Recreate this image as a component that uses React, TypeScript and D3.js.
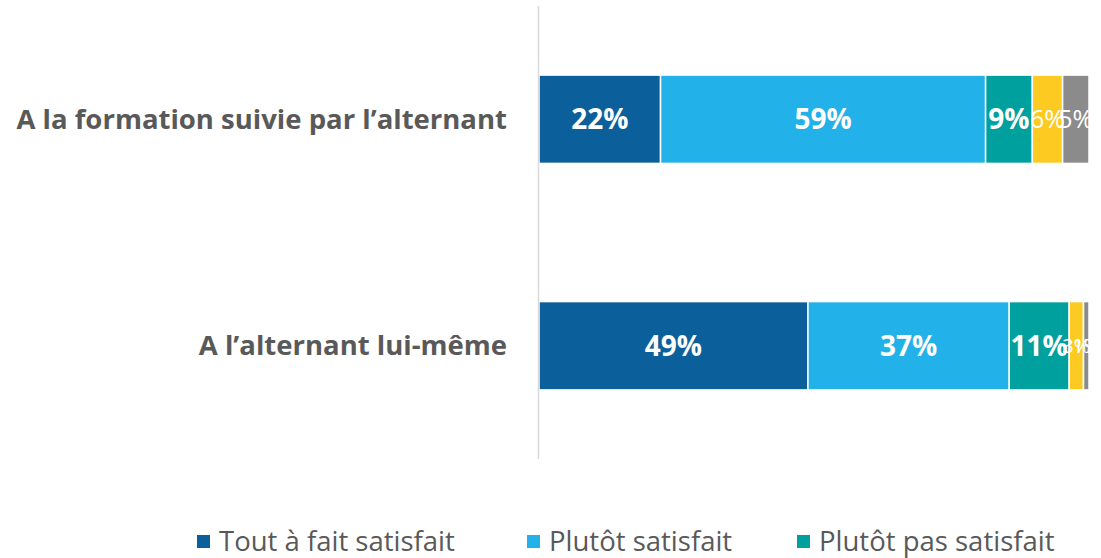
import React from "react";
import * as d3 from "d3";

const categories = ["A la formation suivie par l\u2019alternant", "A l\u2019alternant lui-même"];
const seriesNames = ["Tout à fait satisfait", "Plutôt satisfait", "Plutôt pas satisfait", "Pas du tout satisfait", "Ne sait pas"];
const seriesColors = ["#0b5f9a", "#22b1e8", "#00a09f", "#fdca22", "#8b8b8b"];
const formationValues = [22.1, 59.1, 8.5, 5.5, 4.8];
const alternantValues = [48.9, 36.6, 10.9, 2.6, 1.0];
const valuesByCategory = [formationValues, alternantValues];
const legendShown = [0, 1, 2];
const legendX = [197, 527, 797];

const W = 1101;
const H = 558;
const FONT = "'Open Sans', 'Noto Sans', sans-serif";

export default function App() {
  const x = d3.scaleLinear().domain([0, 100]).range([539, 1089]);
  const y = d3.scaleBand<string>().domain(categories).range([6, 459]).paddingInner(0.61).paddingOuter(0.305);

  const bars = categories.map((cat, ci) => {
    const vals = valuesByCategory[ci];
    const stack = d3.cumsum(vals);
    return vals.map((v, si) => {
      const x0 = x(stack[si] - v);
      const x1 = x(stack[si]);
      const w = x1 - x0;
      const label = `${Math.round(v)}%`;
      const big = w > 40;
      const small = w < 20;
      return {
        key: `${ci}-${si}`,
        x0,
        w,
        y0: y(cat)!,
        h: y.bandwidth(),
        color: seriesColors[si],
        label,
        big,
        small,
      };
    });
  });

  return (
    <div style={{ position: "absolute", left: 0, top: 0 }}>
      <svg width={W} height={H} style={{ display: "block", background: "#fff" }}>
        {bars.flat().map((b) => (
          <rect key={b.key} x={b.x0} y={b.y0} width={b.w} height={b.h} fill={b.color} stroke="#fff" strokeWidth={1.5} />
        ))}
        <line x1={538.5} x2={538.5} y1={6} y2={459} stroke="#d9d9d9" strokeWidth={1.5} />
        {bars.flat().map((b) => (
          <text
            key={"t" + b.key}
            x={b.x0 + b.w / 2}
            y={b.y0 + b.h / 2}
            dy="0.35em"
            textAnchor="middle"
            fill="#fff"
            fontFamily={FONT}
            fontWeight={b.big ? 700 : 400}
            fontSize={b.small ? 20 : b.big ? 28 : 25}
          >
            {b.label}
          </text>
        ))}
        {categories.map((c) => (
          <text
            key={c}
            x={507}
            y={y(c)! + y.bandwidth() / 2}
            dy="0.35em"
            textAnchor="end"
            fill="#595959"
            fontFamily={FONT}
            fontWeight={700}
            fontSize={27.5}
          >
            {c}
          </text>
        ))}
        {legendShown.map((si, i) => (
          <g key={si} transform={`translate(${legendX[i]},0)`}>
            <rect x={0} y={535} width={13} height={13} fill={seriesColors[si]} />
            <text x={22} y={541} dy="0.35em" fill="#595959" fontFamily={FONT} fontSize={27.5}>
              {seriesNames[si]}
            </text>
          </g>
        ))}
      </svg>
    </div>
  );
}
